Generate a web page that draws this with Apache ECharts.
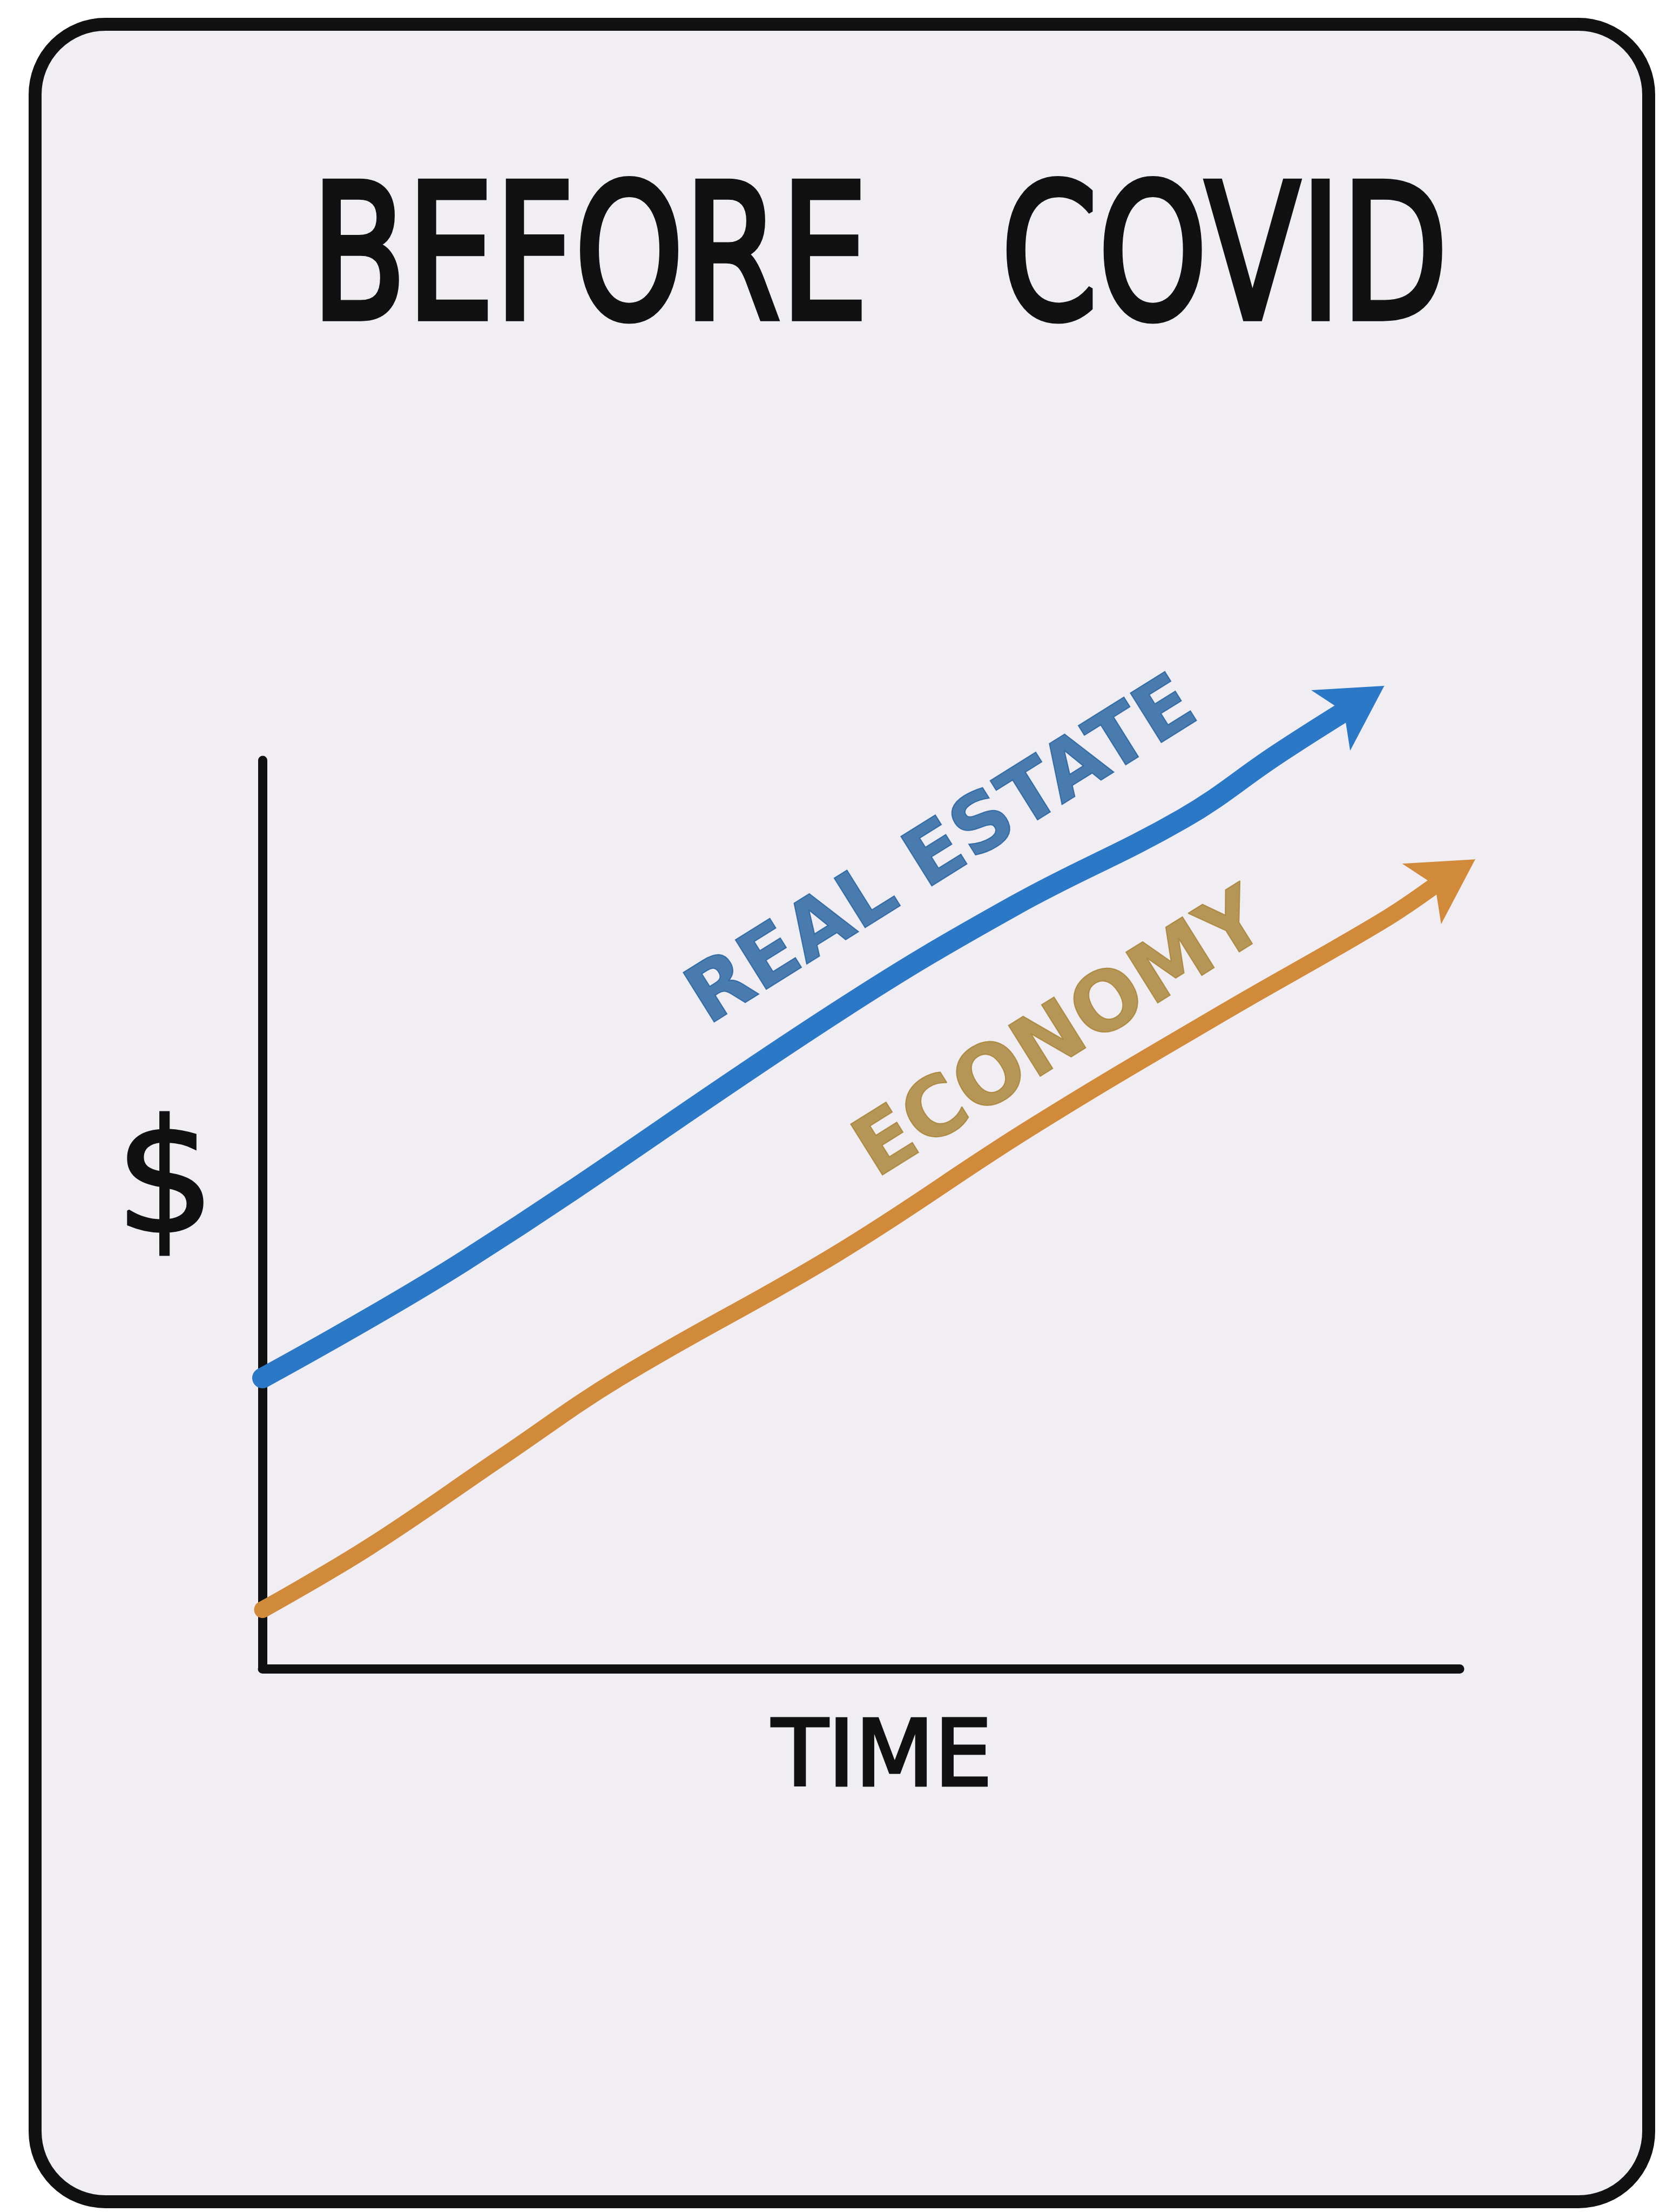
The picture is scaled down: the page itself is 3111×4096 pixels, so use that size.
<!DOCTYPE html>
<html>
<head>
<meta charset="utf-8">
<title>Before Covid</title>
<script src="https://cdn.jsdelivr.net/npm/echarts@6/dist/echarts.min.js"></script>
<style>
html,body{margin:0;padding:0;background:#fff;}
#main{width:3111px;height:4096px;}
</style>
</head>
<body>
<div id="main"></div>
<script>
// hand drawn lines, last point of each list is the arrow tip
var timeReal=[0,17.0,48.1,62.8,76.9,84.7,90.4,93.7]
var realEstate=[32.0,45.0,72.4,84.0,93.6,100.6,105.4,108.2]
var timeEco=[0,8.9,20.1,29.8,48.1,64.1,80.2,93.5,98.0,101.3]
var economy=[6.5,13.4,23.4,32.0,45.8,59.5,72.2,82.3,86.3,89.1]
var seriesNames=["REAL ESTATE","ECONOMY"]

function pairs(x,y){
	var d=[]
	for(var i=0;i<x.length;i++){d.push([x[i],y[i]])}
	return d
}
var realData=pairs(timeReal,realEstate)
var ecoData=pairs(timeEco,economy)

var blue="#2a78c6"
var orange="#d18a3a"

var mychart=echarts.init(document.getElementById('main'));
var option={
	backgroundColor:"#ffffff",
	animation:false,
	graphic:[
		{
			type:"rect",z:-10,
			shape:{x:65,y:45,width:2988,height:4032,r:130},
			style:{fill:"#f0eef2",stroke:"#111111",lineWidth:24}
		},
		{
			type:"text",z:10,
			x:1629,y:499,scaleX:0.742,
			style:{text:"BEFORE   COVID",fontFamily:"DejaVu Sans",fontSize:347,fill:"#111111",
				stroke:"#111111",lineWidth:11,align:"center",verticalAlign:"middle"}
		}
	],
	grid:{left:486,right:408,top:1408,bottom:1006,containLabel:false,outerBoundsMode:"none"},
	xAxis:{
		type:"value",min:0,max:100,
		name:"TIME",nameLocation:"middle",nameGap:87,nameMoveOverlap:false,
		nameTextStyle:{fontFamily:"DejaVu Sans",fontSize:170,color:"#111111",textBorderColor:"#111111",textBorderWidth:5,padding:[0,0,0,78]},
		axisLine:{show:true,onZero:false,lineStyle:{color:"#111111",width:17,cap:"round"}},
		axisTick:{show:false},axisLabel:{show:false},splitLine:{show:false}
	},
	yAxis:{
		type:"value",min:0,max:100,
		name:"$",nameLocation:"middle",nameRotate:0,nameGap:180,nameMoveOverlap:false,
		nameTextStyle:{fontFamily:"DejaVu Sans",fontSize:290,lineHeight:88,color:"#111111",textBorderColor:"#111111",textBorderWidth:5,
			align:"center",verticalAlign:"bottom"},
		axisLine:{show:true,onZero:false,lineStyle:{color:"#111111",width:17,cap:"round"}},
		axisTick:{show:false},axisLabel:{show:false},splitLine:{show:false}
	},
	series:[
		{
			name:seriesNames[0],type:"line",data:realData.slice(0,-1),
			symbol:"none",smooth:0.4,clip:false,z:3,
			lineStyle:{color:blue,width:38,cap:"round",join:"round"}
		},
		{
			type:"lines",coordinateSystem:"cartesian2d",clip:false,z:4,
			data:[{coords:realData.slice(-2)}],
			symbol:["none","arrow"],symbolSize:[1,[100,118]],
			lineStyle:{color:blue,width:1,opacity:1,curveness:0}
		},
		{
			name:seriesNames[1],type:"line",data:ecoData.slice(0,-1),
			symbol:"none",smooth:0.4,clip:false,z:3,
			lineStyle:{color:orange,width:31,cap:"round",join:"round"}
		},
		{
			type:"lines",coordinateSystem:"cartesian2d",clip:false,z:4,
			data:[{coords:ecoData.slice(-2)}],
			symbol:["none","arrow"],symbolSize:[1,[100,118]],
			lineStyle:{color:orange,width:1,opacity:1,curveness:0}
		},
		{
			// rotated names written along the arrows
			type:"scatter",symbolSize:1,silent:true,z:5,
			itemStyle:{color:"rgba(0,0,0,0)"},
			data:[
				{value:[56.9,89.7],label:{show:true,formatter:seriesNames[0],position:"inside",rotate:32,
					fontFamily:"DejaVu Sans",fontWeight:"bold",fontSize:148,color:"#1f5e9c",
					textBorderColor:"#1f5e9c",textBorderWidth:2}},
				{value:[66.8,69.5],label:{show:true,formatter:seriesNames[1],position:"inside",rotate:32,
					fontFamily:"DejaVu Sans",fontWeight:"bold",fontSize:152,color:"#a67f30",
					textBorderColor:"#a67f30",textBorderWidth:2}}
			]
		}
	]
};
mychart.setOption(option);
</script>
</body>
</html>
